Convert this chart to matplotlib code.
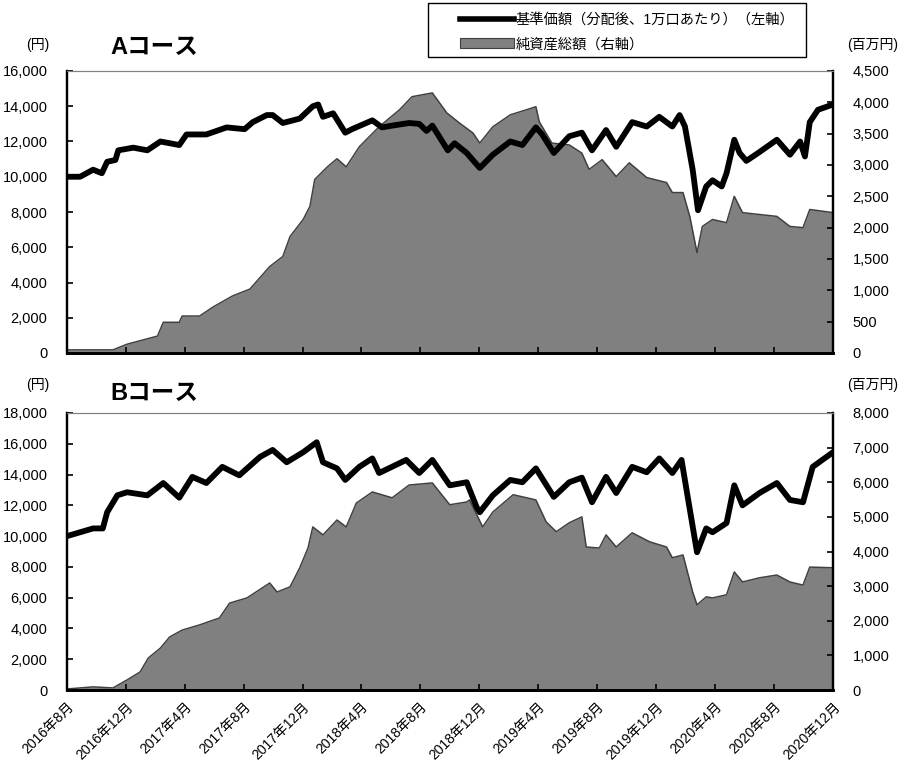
import pandas as pd
import matplotlib
matplotlib.use('Agg')
import matplotlib.pyplot as plt
from matplotlib.lines import Line2D
from matplotlib.patches import Patch, Rectangle
from matplotlib.ticker import FuncFormatter

plt.rcParams['font.family'] = ['Liberation Sans', 'Noto Sans CJK JP', 'DejaVu Sans']

# Aコース 基準価額（円）
a_nav_dates = ['2016-08-01', '2016-08-28', '2016-09-24', '2016-10-12', '2016-10-23', '2016-11-09',
               '2016-11-15', '2016-12-16', '2017-01-14', '2017-02-10', '2017-03-21', '2017-04-05',
               '2017-05-16', '2017-06-27', '2017-08-03', '2017-08-20', '2017-09-18', '2017-09-30',
               '2017-10-21', '2017-11-25', '2017-12-22', '2018-01-02', '2018-01-12', '2018-02-02',
               '2018-02-27', '2018-03-13', '2018-04-24', '2018-05-14', '2018-06-04', '2018-07-09',
               '2018-07-30', '2018-08-14', '2018-08-26', '2018-09-27', '2018-10-11', '2018-11-05',
               '2018-12-02', '2018-12-29', '2019-02-03', '2019-02-28', '2019-03-28', '2019-04-10',
               '2019-05-04', '2019-06-05', '2019-07-01', '2019-07-22', '2019-08-20', '2019-09-10',
               '2019-10-13', '2019-11-12', '2019-12-08', '2020-01-04', '2020-01-19', '2020-01-30',
               '2020-02-15', '2020-02-26', '2020-03-14', '2020-03-27', '2020-04-15', '2020-04-25',
               '2020-05-11', '2020-05-22', '2020-06-05', '2020-07-02', '2020-08-07', '2020-09-03',
               '2020-09-24', '2020-10-04', '2020-10-14', '2020-10-31', '2020-12-01']
a_nav = [10000, 10000, 10400, 10200, 10850, 10950,
         11500, 11650, 11500, 12000, 11800, 12400,
         12400, 12800, 12700, 13100, 13500, 13500,
         13050, 13300, 14000, 14100, 13400, 13600,
         12500, 12700, 13200, 12800, 12900, 13050,
         13000, 12600, 12900, 11500, 11900, 11350,
         10500, 11250, 12000, 11800, 12800, 12400,
         11350, 12300, 12500, 11500, 12650, 11700,
         13100, 12850, 13400, 12850, 13500, 12850,
         10400, 8100, 9450, 9800, 9450, 10200,
         12100, 11350, 10900, 11400, 12100, 11250,
         12000, 11150, 13100, 13800, 14100]

# Aコース 純資産総額（百万円）
a_aum_dates = ['2016-08-01', '2016-11-04', '2016-12-03', '2017-02-04', '2017-02-16', '2017-03-21',
               '2017-03-27', '2017-05-02', '2017-05-29', '2017-07-09', '2017-08-14', '2017-09-24',
               '2017-10-21', '2017-11-05', '2017-12-02', '2017-12-16', '2017-12-26', '2018-01-21',
               '2018-02-10', '2018-03-01', '2018-03-28', '2018-05-08', '2018-06-19', '2018-07-15',
               '2018-08-26', '2018-09-25', '2018-10-21', '2018-11-18', '2018-12-02', '2018-12-29',
               '2019-02-03', '2019-03-08', '2019-03-28', '2019-04-04', '2019-04-30', '2019-06-05',
               '2019-07-01', '2019-07-16', '2019-08-12', '2019-09-10', '2019-10-07', '2019-11-12',
               '2019-12-23', '2020-01-04', '2020-01-26', '2020-02-09', '2020-02-24', '2020-03-06',
               '2020-03-27', '2020-04-25', '2020-05-11', '2020-05-28', '2020-07-02', '2020-08-07',
               '2020-09-03', '2020-09-30', '2020-10-14', '2020-12-01']
a_aum = [50, 50, 140, 270, 490, 490,
         590, 590, 730, 910, 1020, 1380,
         1540, 1860, 2130, 2340, 2770, 2970,
         3100, 2970, 3290, 3610, 3880, 4090,
         4150, 3830, 3670, 3510, 3350, 3610,
         3800, 3880, 3930, 3690, 3350, 3320,
         3190, 2930, 3085, 2815, 3035, 2800,
         2720, 2560, 2560, 2180, 1600, 2020,
         2130, 2080, 2500, 2240, 2210, 2180,
         2020, 2000, 2290, 2240]

# Bコース 基準価額（円）
b_nav_dates = ['2016-08-01', '2016-09-24', '2016-10-14', '2016-10-23', '2016-11-13', '2016-12-03',
               '2017-01-14', '2017-02-16', '2017-03-21', '2017-04-17', '2017-05-16', '2017-06-18',
               '2017-07-23', '2017-09-04', '2017-09-30', '2017-10-29', '2017-12-02', '2017-12-30',
               '2018-01-12', '2018-02-10', '2018-02-27', '2018-03-28', '2018-04-24', '2018-05-08',
               '2018-07-03', '2018-07-30', '2018-08-26', '2018-10-01', '2018-11-05', '2018-11-26',
               '2018-12-02', '2018-12-29', '2019-02-03', '2019-02-28', '2019-03-28', '2019-05-04',
               '2019-06-05', '2019-07-01', '2019-07-22', '2019-08-20', '2019-09-10', '2019-10-13',
               '2019-11-12', '2019-12-08', '2020-01-04', '2020-01-23', '2020-02-05', '2020-02-24',
               '2020-03-14', '2020-03-27', '2020-04-25', '2020-05-11', '2020-05-28', '2020-07-02',
               '2020-08-07', '2020-09-03', '2020-09-30', '2020-10-20', '2020-12-01']
b_nav = [10000, 10500, 10500, 11550, 12650, 12850,
         12650, 13450, 12500, 13850, 13450, 14500,
         13950, 15150, 15600, 14800, 15450, 16100,
         14800, 14400, 13650, 14500, 15050, 14100,
         14950, 14100, 14950, 13300, 13500, 11850,
         11550, 12650, 13650, 13500, 14400, 12550,
         13500, 13800, 12200, 13850, 12800, 14500,
         14150, 15050, 14100, 14950, 12500, 8950,
         10500, 10250, 10850, 13300, 12000, 12800,
         13450, 12350, 12200, 14500, 15450]

# Bコース 純資産総額（百万円）
b_aum_dates = ['2016-08-01', '2016-09-24', '2016-11-04', '2016-12-03', '2016-12-30', '2017-01-16',
               '2017-02-10', '2017-03-01', '2017-03-27', '2017-05-02', '2017-06-12', '2017-07-03',
               '2017-08-08', '2017-09-24', '2017-10-09', '2017-11-05', '2017-11-25', '2017-12-12',
               '2017-12-22', '2018-01-12', '2018-02-10', '2018-03-01', '2018-03-22', '2018-04-24',
               '2018-06-04', '2018-07-09', '2018-08-26', '2018-10-01', '2018-11-05', '2018-11-11',
               '2018-12-08', '2018-12-29', '2019-02-09', '2019-03-28', '2019-04-18', '2019-05-09',
               '2019-06-05', '2019-07-01', '2019-07-10', '2019-08-06', '2019-08-20', '2019-09-10',
               '2019-10-13', '2019-11-18', '2019-12-23', '2020-01-04', '2020-01-26', '2020-02-15',
               '2020-02-24', '2020-03-14', '2020-03-27', '2020-04-25', '2020-05-11', '2020-05-28',
               '2020-07-02', '2020-08-07', '2020-09-03', '2020-09-30', '2020-10-14', '2020-12-01']
b_aum = [30, 90, 60, 290, 520, 925,
         1210, 1530, 1730, 1880, 2080, 2510,
         2660, 3090, 2830, 2980, 3530, 4100,
         4710, 4480, 4910, 4710, 5400, 5720,
         5550, 5920, 5980, 5350, 5430, 5490,
         4710, 5140, 5640, 5490, 4860, 4570,
         4830, 5000, 4130, 4100, 4480, 4130,
         4540, 4280, 4130, 3820, 3900, 2830,
         2460, 2690, 2660, 2750, 3410, 3120,
         3240, 3320, 3120, 3030, 3550, 3530]

tick_months = pd.date_range('2016-08-01', '2020-12-01', freq='4MS')
tick_labels = [f'{d.year}年{d.month}月' for d in tick_months]

fig = plt.figure(figsize=(9.04, 7.69), dpi=100)
ax_a = fig.add_axes([67 / 904, 1 - 353 / 769, 766 / 904, 282 / 769])
ax_b = fig.add_axes([67 / 904, 1 - 690 / 769, 766 / 904, 277 / 769])

comma = FuncFormatter(lambda v, p: f'{int(v):,}')


def draw(ax, nav_d, nav_v, aum_d, aum_v, ymax, ystep, y2max, y2step, show_x):
    ax2 = ax.twinx()
    ax.set_zorder(ax2.get_zorder() + 1)
    ax.patch.set_visible(False)
    ax2.set_facecolor('#e9e9e9')

    ad = pd.to_datetime(aum_d)
    ax2.fill_between(ad, aum_v, color='#808080', lw=0)
    ax2.plot(ad, aum_v, color='#404040', lw=1.1)
    ax.plot(pd.to_datetime(nav_d), nav_v, color='black', lw=4.2,
            solid_joinstyle='round', solid_capstyle='round')

    ax.set_xlim(tick_months[0], tick_months[-1])
    ax.set_ylim(0, ymax)
    ax2.set_ylim(0, y2max)
    ax.set_yticks(range(0, ymax + 1, ystep))
    ax2.set_yticks(range(0, y2max + 1, y2step))
    ax.yaxis.set_major_formatter(comma)
    ax2.yaxis.set_major_formatter(comma)
    ax.set_xticks(tick_months)
    if show_x:
        ax.set_xticklabels(tick_labels, rotation=45, ha='right', rotation_mode='anchor', fontsize=10)
    else:
        ax.set_xticklabels([])

    ax.tick_params(axis='y', direction='in', length=4, width=1.2, pad=14, labelsize=10.5)
    ax.tick_params(axis='x', direction='in', length=4, width=1.2, pad=7)
    ax2.tick_params(axis='y', direction='in', length=4, width=1.2, pad=14, labelsize=10.5)
    for a in (ax, ax2):
        a.spines['top'].set_color('#808080')
        a.spines['left'].set_linewidth(1.6)
        a.spines['right'].set_linewidth(1.6)
        a.spines['bottom'].set_linewidth(2.0)


draw(ax_a, a_nav_dates, a_nav, a_aum_dates, a_aum, 16000, 2000, 4500, 500, False)
draw(ax_b, b_nav_dates, b_nav, b_aum_dates, b_aum, 18000, 2000, 8000, 1000, True)

# titles and unit labels
fig.text(110 / 904, 1 - 47 / 769, 'Aコース', fontsize=17, fontweight='bold', va='center')
fig.text(110 / 904, 1 - 393 / 769, 'Bコース', fontsize=17, fontweight='bold', va='center')
for yy in (45, 385):
    fig.text(38 / 904, 1 - yy / 769, '(円)', fontsize=10, ha='center', va='center')
    fig.text(847 / 904, 1 - yy / 769, '(百万円)', fontsize=10, ha='left', va='center')

# legend box
fig.patches.append(Rectangle((428 / 904, 1 - 57 / 769), 378 / 904, 54 / 769,
                             transform=fig.transFigure, facecolor='white',
                             edgecolor='black', lw=1.0))
handles = [Line2D([0], [0], color='black', lw=4),
           Patch(facecolor='#808080', edgecolor='#404040', lw=0.8)]
labels = ['基準価額（分配後、1万口あたり）（左軸）', '純資産総額（右軸）']
fig.legend(handles, labels, loc='center left', bbox_to_anchor=(460 / 904, 1 - 32 / 769),
           fontsize=10.3, frameon=False, handlelength=3.8, handletextpad=0.1,
           borderaxespad=0, borderpad=0, labelspacing=0.75)

fig.savefig('out.png', dpi=100)
